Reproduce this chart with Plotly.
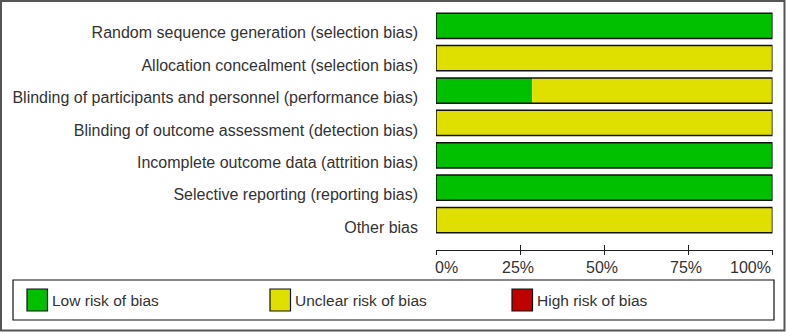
import plotly.graph_objects as go

# ---- data ----
categories = [
    "Random sequence generation (selection bias)",
    "Allocation concealment (selection bias)",
    "Blinding of participants and personnel (performance bias)",
    "Blinding of outcome assessment (detection bias)",
    "Incomplete outcome data (attrition bias)",
    "Selective reporting (reporting bias)",
    "Other bias",
]
low_risk = [100, 0, 28.57, 0, 100, 100, 0]
unclear_risk = [0, 100, 71.43, 100, 0, 0, 100]
high_risk = [0, 0, 0, 0, 0, 0, 0]
series_names = ["Low risk of bias", "Unclear risk of bias", "High risk of bias"]
series_colors = ["#00C000", "#E0E000", "#C00000"]
tick_vals = [0, 25, 50, 75, 100]
tick_text = ["0%", "25%", "50%", "75%", "100%"]

W, H = 786, 332
FONT = "Liberation Sans, Arial, sans-serif"
TXT = "#333333"

def px(x):
    return x / W

def py(y):
    return 1 - y / H

base_unclear = low_risk
base_high = [a + b for a, b in zip(low_risk, unclear_risk)]
totals = [a + b + c for a, b, c in zip(low_risk, unclear_risk, high_risk)]

fig = go.Figure()
for vals, base, name, col in zip(
    [low_risk, unclear_risk, high_risk],
    [[0] * len(categories), base_unclear, base_high],
    series_names, series_colors,
):
    fig.add_trace(go.Bar(
        y=categories, x=vals, base=base, orientation="h", name=name,
        marker=dict(color=col, line=dict(width=0)), showlegend=False,
        hoverinfo="skip",
    ))
# outline around each full bar
fig.add_trace(go.Bar(
    y=categories, x=totals, base=[0] * len(categories), orientation="h",
    marker=dict(color="rgba(0,0,0,0)", line=dict(color="#111111", width=1.5)),
    showlegend=False, hoverinfo="skip",
))
# dummy trace so the inside-tick overlay axis is drawn
fig.add_trace(go.Scatter(x=[None], y=[None], xaxis="x2", yaxis="y",
                         showlegend=False, hoverinfo="skip"))

xdom = [px(436), px(772.5)]
axis_pos = py(250)

fig.update_layout(
    width=W, height=H,
    margin=dict(l=0, r=0, t=0, b=0),
    paper_bgcolor="white", plot_bgcolor="white",
    barmode="overlay", bargap=0.22,
    font=dict(family=FONT, size=15.5, color=TXT),
    xaxis=dict(domain=xdom, range=[0, 100], anchor="free", position=axis_pos,
               showgrid=False, zeroline=False, showline=True,
               linecolor="#222222", linewidth=1,
               ticks="outside", ticklen=4, tickcolor="#222222",
               tickvals=tick_vals, showticklabels=False, fixedrange=True),
    xaxis2=dict(domain=xdom, range=[0, 100], anchor="free", position=axis_pos,
                overlaying="x", showgrid=False, zeroline=False, showline=False,
                ticks="inside", ticklen=5, tickcolor="#222222",
                tickvals=tick_vals, showticklabels=False, fixedrange=True),
    yaxis=dict(domain=[py(236.2), py(9.6)], type="category",
               categoryorder="array", categoryarray=categories,
               range=[6.5, -0.5], autorange=False,
               showgrid=False, zeroline=False, showline=False, ticks="",
               ticklabelstandoff=17, ticklabelshift=-7,
               tickfont=dict(family=FONT, size=16, color=TXT),
               fixedrange=True),
)

# x tick labels
for v, t in zip(tick_vals, tick_text):
    anchor = "left" if v == tick_vals[0] else ("right" if v == tick_vals[-1] else "center")
    fig.add_annotation(x=v, y=py(267.5), xref="x", yref="paper", text=t,
                       showarrow=False, xanchor=anchor, yanchor="middle",
                       xshift=-3 if v == tick_vals[0] else (-2 if anchor == "center" else 0),
                       font=dict(family=FONT, size=16, color=TXT))

shapes = []
# outer frame
shapes.append(dict(type="rect", xref="paper", yref="paper",
                   x0=px(1), x1=px(784.5), y0=py(1), y1=py(330.5),
                   line=dict(color="#555555", width=2)))
# legend box
shapes.append(dict(type="rect", xref="paper", yref="paper",
                   x0=px(13), x1=px(774), y0=py(280), y1=py(320),
                   line=dict(color="#111111", width=1.2)))
legend_sq_x = [27, 270, 512]
for lx, name, col in zip(legend_sq_x, series_names, series_colors):
    shapes.append(dict(type="rect", xref="paper", yref="paper",
                       x0=px(lx), x1=px(lx + 20.5), y0=py(289), y1=py(311),
                       fillcolor=col, line=dict(color="#111111", width=1.2)))
    fig.add_annotation(x=px(lx + 22.5), y=py(300), xref="paper", yref="paper",
                       text=name, showarrow=False, xanchor="left", yanchor="middle",
                       font=dict(family=FONT, size=15.5, color=TXT))
fig.update_layout(shapes=shapes)

fig.write_html("out.html")
